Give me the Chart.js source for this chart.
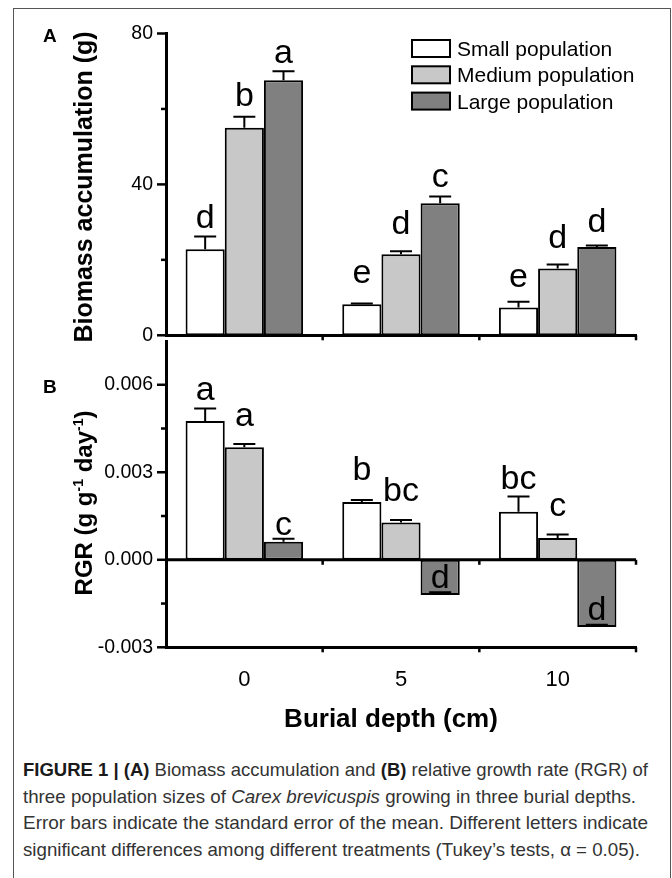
<!DOCTYPE html>
<html>
<head>
<meta charset="utf-8">
<title>Biomass and RGR of Carex brevicuspis</title>
<script src="https://cdn.jsdelivr.net/npm/chart.js@4.4.1/dist/chart.umd.min.js"></script>
<style>
  html, body { margin: 0; padding: 0; background: #fff; }
  body { width: 672px; height: 878px; position: relative; overflow: hidden; font-family: "Liberation Sans", Arial, sans-serif; }
  #frame { position: absolute; left: 13px; top: 8px; width: 656px; height: 900px; border: 1px solid #555; border-bottom: none; }
  #chartA { position: absolute; left: 0; top: 0; }
  #chartB { position: absolute; left: 0; top: 300px; }
  #caption { position: absolute; left: 23px; top: 757px; color: #333; font-size: 18.5px; line-height: 26.7px; }
  #caption .line { white-space: nowrap; transform-origin: 0 0; width: max-content; }
  #caption b { color: #1a1a1a; }
</style>
</head>
<body>
<div id="frame"></div>
<canvas id="chartA" width="672" height="360"></canvas>
<canvas id="chartB" width="672" height="440"></canvas>
<div id="caption">
  <div class="line"><b>FIGURE 1 | (A)</b> Biomass accumulation and <b>(B)</b> relative growth rate (RGR) of</div>
  <div class="line">three population sizes of <i>Carex brevicuspis</i> growing in three burial depths.</div>
  <div class="line">Error bars indicate the standard error of the mean. Different letters indicate</div>
  <div class="line">significant differences among different treatments (Tukey’s tests, α = 0.05).</div>
</div>
<script>
// Categories
const depths = ['0', '5', '10'];
const populations = ['Small population', 'Medium population', 'Large population'];

// Panel A: biomass accumulation (g), mean and SE
const biomassSmall = [22.8, 8.2, 7.4];
const biomassMedium = [55.0, 21.5, 17.7];
const biomassLarge = [67.6, 35.0, 23.4];
const biomassSeSmall = [3.4, 0.2, 1.5];
const biomassSeMedium = [2.9, 0.8, 1.1];
const biomassSeLarge = [2.4, 1.8, 0.4];
const biomassLettersSmall = ['d', 'e', 'e'];
const biomassLettersMedium = ['b', 'd', 'd'];
const biomassLettersLarge = ['a', 'c', 'd'];

// Panel B: RGR (g g-1 day-1), mean and SE
const rgrSmall = [0.00476, 0.00198, 0.00165];
const rgrMedium = [0.00386, 0.00128, 0.00075];
const rgrLarge = [0.00062, -0.00121, -0.00230];
const rgrSeSmall = [0.00043, 0.00007, 0.00052];
const rgrSeMedium = [0.00011, 0.00008, 0.00012];
const rgrSeLarge = [0.00010, 0.00010, 0.00007];
const rgrLettersSmall = ['a', 'b', 'bc'];
const rgrLettersMedium = ['a', 'bc', 'c'];
const rgrLettersLarge = ['c', 'd', 'd'];

// Tick labels
const biomassTicks = [0, 40, 80];
const rgrTicks = [-0.003, 0, 0.003, 0.006];

const fills = ['#ffffff', '#c8c8c8', '#808080'];
const FONT = '"Liberation Sans", Arial, Helvetica, sans-serif';

// gap (px) between the error cap and the letter above it
const gapA = [[8, 21, 15], [11, 17, 16], [8, 9, 14]];
const gapB = [[8, 20, 7], [18, 19, 18], [4, 4, 5]];

function makeDatasets(series) {
    return series.map((values, i) => ({
        label: populations[i],
        data: values,
        backgroundColor: fills[i],
        borderColor: '#000',
        borderWidth: 2,
        borderSkipped: false,
        categoryPercentage: 0.75,
        barPercentage: 1.0
    }));
}

// error bars + significance letters
const sigMarks = {
    id: 'sigMarks',
    afterDatasetsDraw(chart, args, opts) {
        const ctx = chart.ctx;
        const y = chart.scales.y;
        ctx.save();
        ctx.strokeStyle = '#000';
        ctx.lineWidth = 2;
        ctx.fillStyle = '#000';
        ctx.font = '34px ' + FONT;
        ctx.textAlign = 'center';
        ctx.textBaseline = 'alphabetic';
        chart.data.datasets.forEach((ds, di) => {
            const meta = chart.getDatasetMeta(di);
            meta.data.forEach((bar, i) => {
                const v = ds.data[i];
                const yv = y.getPixelForValue(v);
                const yc = y.getPixelForValue(v + opts.se[di][i]);
                ctx.beginPath();
                ctx.moveTo(bar.x, yv);
                ctx.lineTo(bar.x, yc);
                ctx.moveTo(bar.x - 11, yc);
                ctx.lineTo(bar.x + 11, yc);
                ctx.stroke();
                ctx.fillText(opts.letters[di][i], bar.x, yc - opts.gaps[di][i]);
            });
        });
        ctx.restore();
    }
};

// axis ticks, zero line and text decorations
const axisMarks = {
    id: 'axisMarks',
    afterDraw(chart, args, opts) {
        const ctx = chart.ctx;
        const area = chart.chartArea;
        const y = chart.scales.y;
        const x = chart.scales.x;
        ctx.save();
        ctx.strokeStyle = '#000';
        ctx.lineCap = 'butt';

        // y ticks: long at labelled values, short between
        ctx.lineWidth = 2.5;
        y.ticks.forEach(t => {
            const py = y.getPixelForValue(t.value);
            const major = opts.majors.some(m => Math.abs(m - t.value) < 1e-9);
            if (!major && t.value >= y.max - 1e-9) return;
            ctx.beginPath();
            ctx.moveTo(area.left - (major ? 9 : 5), py);
            ctx.lineTo(area.left, py);
            ctx.stroke();
        });

        // horizontal lines which carry small down ticks at category edges
        const lines = [area.bottom];
        if (y.min < 0) {
            const p0 = y.getPixelForValue(0);
            lines.push(p0);
            ctx.lineWidth = 3;
            ctx.beginPath();
            ctx.moveTo(area.left, p0);
            ctx.lineTo(area.right, p0);
            ctx.stroke();
        }
        const step = (area.right - area.left) / x.ticks.length;
        ctx.lineWidth = 2.5;
        lines.forEach(ly => {
            for (let k = 1; k <= x.ticks.length; k++) {
                const px = area.left + k * step;
                ctx.beginPath();
                ctx.moveTo(px, ly);
                ctx.lineTo(px, ly + 5);
                ctx.stroke();
            }
        });

        // panel letter
        ctx.fillStyle = '#000';
        ctx.font = 'bold 19px ' + FONT;
        ctx.textAlign = 'left';
        ctx.textBaseline = 'alphabetic';
        ctx.fillText(opts.panel.text, opts.panel.x, opts.panel.y);

        // rotated y title, built from parts (for superscripts)
        ctx.save();
        ctx.translate(opts.yTitle.x, opts.yTitle.y);
        ctx.rotate(-Math.PI / 2);
        let total = 0;
        opts.yTitle.parts.forEach(p => {
            ctx.font = 'bold ' + (p.sup ? 14 : opts.yTitle.size) + 'px ' + FONT;
            total += ctx.measureText(p.text).width;
        });
        let cx = -total / 2;
        opts.yTitle.parts.forEach(p => {
            ctx.font = 'bold ' + (p.sup ? 14 : opts.yTitle.size) + 'px ' + FONT;
            ctx.fillText(p.text, cx, p.sup ? -9 : 0);
            cx += ctx.measureText(p.text).width;
        });
        ctx.restore();

        if (opts.xTitle) {
            ctx.font = 'bold 26px ' + FONT;
            ctx.textAlign = 'center';
            ctx.fillText(opts.xTitle.text, opts.xTitle.x, opts.xTitle.y);
        }

        if (opts.legend) {
            ctx.font = '21px ' + FONT;
            ctx.textAlign = 'left';
            populations.forEach((name, i) => {
                const by = opts.legend.y + i * 26.3;
                ctx.fillStyle = fills[i];
                ctx.fillRect(opts.legend.x, by, 38, 17);
                ctx.lineWidth = 2;
                ctx.strokeRect(opts.legend.x, by, 38, 17);
                ctx.fillStyle = '#000';
                ctx.fillText(name, opts.legend.x + 45, by + 8.5 + 7.5);
            });
        }
        ctx.restore();
    }
};

Chart.register(sigMarks, axisMarks);

// Panel A
new Chart(document.getElementById('chartA'), {
    type: 'bar',
    data: {
        labels: depths,
        datasets: makeDatasets([biomassSmall, biomassMedium, biomassLarge])
    },
    options: {
        responsive: false,
        animation: false,
        layout: { padding: { left: 0, right: 36, top: 33.5, bottom: 19.3 } },
        scales: {
            x: {
                grid: { display: false, drawTicks: false },
                border: { display: true, color: '#000', width: 3 },
                ticks: { display: false },
                afterFit: s => { s.height = 0; }
            },
            y: {
                min: 0,
                max: 80,
                grid: { display: false, drawTicks: false },
                border: { display: true, color: '#000', width: 3 },
                ticks: {
                    stepSize: 20,
                    padding: 13,
                    color: '#000',
                    font: { size: 19.5, family: FONT },
                    callback: v => biomassTicks.includes(v) ? String(v) : ''
                },
                afterFit: s => { s.width = 166; }
            }
        },
        plugins: {
            legend: { display: false },
            tooltip: { enabled: false },
            sigMarks: {
                se: [biomassSeSmall, biomassSeMedium, biomassSeLarge],
                letters: [biomassLettersSmall, biomassLettersMedium, biomassLettersLarge],
                gaps: gapA
            },
            axisMarks: {
                majors: biomassTicks,
                panel: { text: 'A', x: 43, y: 42 },
                yTitle: { x: 92, y: 187, size: 25, parts: [{ text: 'Biomass accumulation (g)' }] },
                legend: { x: 412, y: 40 }
            }
        }
    }
});

// Panel B
new Chart(document.getElementById('chartB'), {
    type: 'bar',
    data: {
        labels: depths,
        datasets: makeDatasets([rgrSmall, rgrMedium, rgrLarge])
    },
    options: {
        responsive: false,
        animation: false,
        layout: { padding: { left: 0, right: 36, top: 41, bottom: 32.7 } },
        scales: {
            x: {
                grid: { display: false, drawTicks: false },
                border: { display: true, color: '#000', width: 3 },
                ticks: { padding: 19, color: '#000', font: { size: 22, family: FONT } },
                afterFit: s => { s.height = 60; }
            },
            y: {
                min: -0.003,
                max: 0.0075,
                grid: { display: false, drawTicks: false },
                border: { display: true, color: '#000', width: 3 },
                ticks: {
                    stepSize: 0.0015,
                    padding: 13,
                    color: '#000',
                    font: { size: 19.5, family: FONT },
                    callback: v => {
                        const hit = rgrTicks.find(t => Math.abs(t - v) < 1e-9);
                        return hit === undefined ? '' : hit.toFixed(3);
                    }
                },
                afterFit: s => { s.width = 166; }
            }
        },
        plugins: {
            legend: { display: false },
            tooltip: { enabled: false },
            sigMarks: {
                se: [rgrSeSmall, rgrSeMedium, rgrSeLarge],
                letters: [rgrLettersSmall, rgrLettersMedium, rgrLettersLarge],
                gaps: gapB
            },
            axisMarks: {
                majors: rgrTicks,
                panel: { text: 'B', x: 43, y: 93 },
                yTitle: {
                    x: 92, y: 203, size: 24,
                    parts: [
                        { text: 'RGR (g g' }, { text: '-1', sup: true },
                        { text: ' day' }, { text: '-1', sup: true }, { text: ')' }
                    ]
                },
                xTitle: { text: 'Burial depth (cm)', x: 391, y: 427 }
            }
        }
    }
});

// squeeze caption lines to the reference widths
const captionWidths = [625, 613, 625, 617];
document.querySelectorAll('#caption .line').forEach((el, i) => {
    const w = el.getBoundingClientRect().width;
    el.style.transform = 'scaleX(' + (captionWidths[i] / w) + ')';
});
</script>
</body>
</html>
